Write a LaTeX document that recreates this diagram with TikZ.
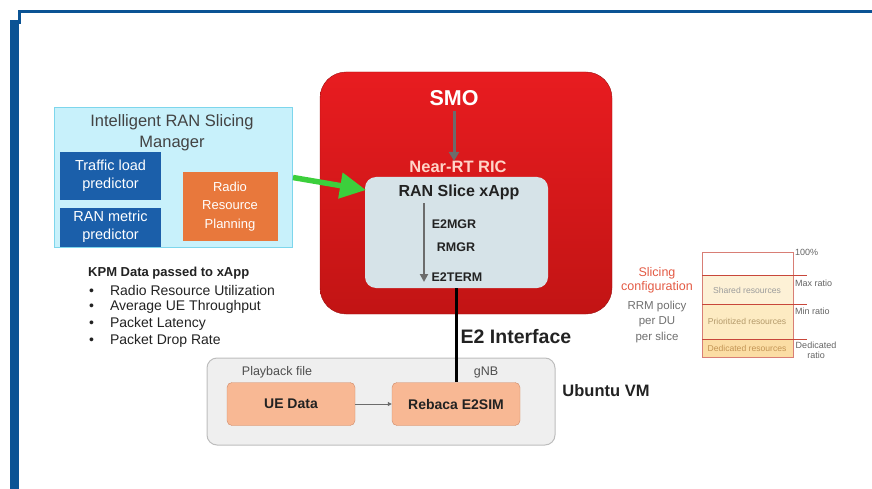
\documentclass[tikz,border=0pt]{standalone}
\usepackage{fontspec}
\setmainfont{Liberation Sans}
\usetikzlibrary{arrows.meta,positioning}
\definecolor{frameblue}{HTML}{0B5394}
\definecolor{mgrfill}{HTML}{C8F1FB}
\definecolor{mgrdraw}{HTML}{7DD6EC}
\definecolor{predblue}{HTML}{1B5FAA}
\definecolor{planorange}{HTML}{E8783C}
\definecolor{arrowgreen}{HTML}{3CCF3C}
\definecolor{rictop}{HTML}{E81C20}
\definecolor{ricbottom}{HTML}{C21414}
\definecolor{xappfill}{HTML}{D6E3E8}
\definecolor{ricpink}{HTML}{FFD4C8}
\definecolor{arrowgray}{HTML}{6C6C6C}
\definecolor{vmfill}{HTML}{EFEFEF}
\definecolor{vmdraw}{HTML}{BDBDBD}
\definecolor{simfill}{HTML}{F8B894}
\definecolor{simdraw}{HTML}{CF8A68}
\definecolor{slicered}{HTML}{E35A44}
\definecolor{barred}{HTML}{C8473A}
\definecolor{sharedfill}{HTML}{FDF1D6}
\definecolor{priorfill}{HTML}{FDEBC2}
\definecolor{dedicfill}{HTML}{FBDDA4}
\definecolor{bartext}{HTML}{B49A6A}
\definecolor{darktext}{HTML}{222222}
\begin{document}
\begin{tikzpicture}[x=1pt, y=-1pt,
    mgr/.style = {draw=mgrdraw, fill=mgrfill, line width=1pt, inner sep=0pt},
    predbox/.style = {fill=predblue, text=white, align=center, inner sep=0pt,
        minimum width=101pt, font=\fontsize{14.5}{18.5}\selectfont},
    planbox/.style = {fill=planorange, text=white, align=center, inner sep=0pt,
        minimum width=95pt, minimum height=69pt, font=\fontsize{13}{18.5}\selectfont},
    ricbox/.style = {draw=ricbottom!80!black, top color=rictop, bottom color=ricbottom,
        rounded corners=26pt, inner sep=0pt},
    xappbox/.style = {fill=xappfill, rounded corners=11pt, inner sep=0pt},
    inarrow/.style = {draw=arrowgray, line width=2pt, -{Triangle[length=8pt,width=8pt]}},
    lbl/.style = {inner sep=0pt, text=darktext},
    vmbox/.style = {draw=vmdraw, fill=vmfill, rounded corners=10pt, line width=1pt, inner sep=0pt},
    simbox/.style = {draw=simdraw, fill=simfill, rounded corners=5pt, inner sep=0pt,
        minimum width=128pt, minimum height=43pt, text=darktext,
        font=\fontsize{14}{16}\selectfont\bfseries},
    kpmline/.style = {anchor=west, inner sep=0pt, text=darktext, font=\fontsize{14}{16}\selectfont},
    barlbl/.style = {inner sep=0pt, text=bartext, font=\fontsize{8.6}{10}\selectfont},
    ratiolbl/.style = {inner sep=0pt, anchor=west, text=darktext!70, font=\fontsize{9}{10}\selectfont}]

\useasboundingbox (0,0) rectangle (872,489);

% frame
\draw[frameblue, line width=3pt] (19,24) -- (19,11.5) -- (872,11.5);
\draw[frameblue, line width=9pt] (14.5,20) -- (14.5,489);

% slicing manager
\node[mgr, minimum width=238pt, minimum height=139pt] (ism) at (173.5,177.5) {};
\node[lbl, align=center, text=darktext!85, font=\fontsize{16.5}{21}\selectfont] (ismtitle) at (172,133) {Intelligent RAN Slicing\\Manager};
\node[predbox, minimum height=48pt] (tlp) at (110.5,176) {Traffic load\\predictor};
\node[predbox, minimum height=39pt] (rmp) at (110.5,227) {RAN metric\\predictor};
\node[planbox] (rrp) at (230,206.5) {Radio\\Resource\\Planning};

% RIC
\node[ricbox, minimum width=292pt, minimum height=242pt] (ricbox) at (466,193) {};
\node[lbl, text=white, font=\fontsize{21.5}{24}\selectfont\bfseries] (smo) at (454,98) {SMO};
\node[lbl, text=ricpink, font=\fontsize{16.5}{18}\selectfont\bfseries] (ric) at (458,167) {Near-RT RIC};
\draw[draw=arrowgray, line width=3pt, -{Triangle[length=9pt,width=10pt]}] (smo.south) ++(0,5) -- (smo.south |- ric.north);
\node[xappbox, minimum width=183pt, minimum height=111pt] (xapp) at (456.5,232.5) {};
\node[lbl, font=\fontsize{16}{18}\selectfont\bfseries] (xapptitle) at (459,192) {RAN Slice xApp};
\node[lbl, font=\fontsize{12.5}{14}\selectfont\bfseries] (e2mgr) at (454,224) {E2MGR};
\node[lbl, font=\fontsize{12.5}{14}\selectfont\bfseries] (rmgr) at (456,247) {RMGR};
\node[lbl, font=\fontsize{12.5}{14}\selectfont\bfseries] (e2term) at (457,277) {E2TERM};
\coordinate (flowtop) at (424,203);
\coordinate (flowend) at (424,282);
\draw[inarrow] (flowtop) -- (flowend);

% green arrow
\coordinate (greentip) at (366,190);
\draw[arrowgreen, line width=5.5pt, -{Triangle[length=26pt,width=25pt]}] (ism.east) -- (greentip);

% KPM list
\node[kpmline, font=\fontsize{13}{15}\selectfont\bfseries] (kpm) at (88,273) {KPM Data passed to xApp};
\node[kpmline] (kpm1) at (89,290) {\textbullet\hspace{16pt}Radio Resource Utilization};
\node[kpmline] (kpm2) at (89,307) {\textbullet\hspace{16pt}Average UE Throughput};
\node[kpmline] (kpm3) at (89,323.5) {\textbullet\hspace{16pt}Packet Latency};
\node[kpmline] (kpm4) at (89,340.5) {\textbullet\hspace{16pt}Packet Drop Rate};

% Ubuntu VM
\node[vmbox, minimum width=348pt, minimum height=87pt] (vm) at (381,401.5) {};
\node[lbl, text=darktext!80, font=\fontsize{12.5}{14}\selectfont] (playback) at (277,372) {Playback file};
\node[lbl, text=darktext!80, font=\fontsize{12.5}{14}\selectfont] (gnb) at (486,372) {gNB};
\node[simbox] (uedata) at (291,404) {UE Data};
\node[simbox] (e2sim) at (456,404) {Rebaca E2SIM};
\draw[draw=arrowgray, line width=1pt, -{Triangle[length=4pt,width=4pt]}] (uedata) -- (e2sim);
\node[lbl, font=\fontsize{16.5}{18}\selectfont\bfseries] (vmname) at (606,391) {Ubuntu VM};

% E2 interface
\draw[black, line width=2.5pt] (xapp.south) -- (xapp.south |- e2sim.north);
\node[lbl, font=\fontsize{19.5}{22}\selectfont\bfseries] (e2if) at (516,337) {E2 Interface};

% slicing configuration
\node[lbl, align=center, text=slicered, font=\fontsize{12.5}{14}\selectfont] (slicecfg) at (657,280) {Slicing\\configuration};
\node[lbl, align=center, text=darktext!65, font=\fontsize{11.5}{15.5}\selectfont] (rrm) at (657,322) {RRM policy\\per DU\\per slice};
\fill[sharedfill] (702,275) rectangle (793,304);
\fill[priorfill] (702,304) rectangle (793,339);
\fill[dedicfill] (702,339) rectangle (793,357);
\draw[barred!70, line width=0.8pt] (702,252) rectangle (793,357);
\draw[barred, line width=1pt] (702,275) -- (807,275);
\draw[barred, line width=1pt] (702,304) -- (807,304);
\draw[barred, line width=1pt] (702,339) -- (807,339);
\node[barlbl, text=darktext!45] (shared) at (747,290) {Shared resources};
\node[barlbl, text=bartext] (prior) at (747,321.5) {Prioritized resources};
\node[barlbl, text=bartext!80!orange] (dedic) at (747,348.5) {Dedicated resources};
\node[ratiolbl] (full) at (795,252) {100\%};
\node[ratiolbl] (maxr) at (795,283) {Max ratio};
\node[ratiolbl] (minr) at (795,311) {Min ratio};
\node[inner sep=0pt, align=center, text=darktext!70, font=\fontsize{9}{10}\selectfont] (dedr) at (816,350) {Dedicated\\ratio};

\end{tikzpicture}
\end{document}
